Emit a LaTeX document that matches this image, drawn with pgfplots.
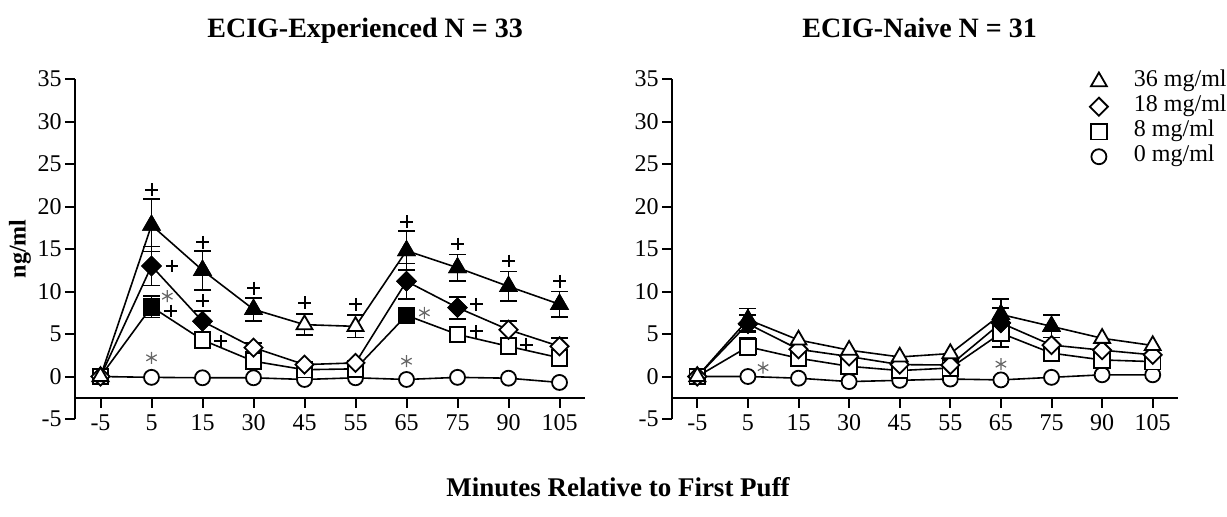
\documentclass[border=0pt]{standalone}
\usepackage{fontspec}
\setmainfont{Liberation Serif}
\usepackage{pgfplots}
\pgfplotsset{compat=1.18}

\pgfplotsset{
  prism/.style={
    scale only axis, height=170pt,
    xmin=-0.5, xmax=9.5, ymin=-5, ymax=35,
    axis y line*=left, axis x line*=bottom,
    axis x line shift=-10.625pt,
    xtick={0,...,9}, xticklabels={-5,5,15,30,45,55,65,75,90,105},
    ytick={-5,0,...,35},
    tick align=outside, major tick length=5pt,
    axis line style={line width=1pt, -},
    every tick/.style={black, line width=1pt},
    tick label style={font=\fontsize{12}{14}\selectfont},
    yticklabel style={inner sep=1.5pt},
    /pgf/number format/assume math mode=true,
    clip=false,
  },
  ser/.style={black, line width=0.8pt, mark options={solid, fill=white, line width=0.9pt}},
  tri/.style={mark=triangle*, mark size=4.6pt},
  dia/.style={mark=square*, mark size=3.2pt, mark options={solid, fill=white, line width=0.9pt, rotate=45}},
  sqr/.style={mark=square*, mark size=3.9pt},
  cir/.style={mark=*, mark size=3.75pt},
  filled/.style={forget plot, only marks, black, mark options={solid, fill=black, line width=0.9pt}},
  ebar/.style={forget plot, only marks, mark=none, black,
    error bars/.cd, y dir=both, y explicit, error mark=-,
    error bar style={line width=0.9pt},
    error mark options={rotate=90, mark size=4.25pt, line width=0.9pt}},
  plus/.style={forget plot, only marks, black, mark=+, mark size=3.2pt, mark options={line width=1pt}},
  star/.style={forget plot, only marks, gray!80!black, mark=asterisk, mark size=3pt, mark options={line width=0.6pt}},
}

\begin{document}
\begin{tikzpicture}
\useasboundingbox (0,0) rectangle (613.5pt,258pt);

% ECIG-experienced
\begin{axis}[prism, width=255pt, at={(37.5pt,48.5pt)}, anchor=south west]
\addplot[ebar] table[x index=0, y index=1, y error index=2] {
1 17.8 3.1
2 12.5 2.3
3 7.9 1.35
4 6.1 1.25
5 5.9 1.3
6 14.8 2.3
7 12.8 1.55
8 10.6 1.75
9 8.5 1.5
};
\addplot[ebar] table[x index=0, y index=1, y error index=2] {
1 13.0 2.3
2 6.5 1.2
3 3.4 0.5
6 11.2 2.1
7 8.1 1.3
8 5.5 1.0
9 3.55 0.95
};
\addplot[ebar] table[x index=0, y index=1, y error index=2] {
1 8.2 1.25
2 4.3 0.6
6 7.2 0.8
7 4.95 0.6
8 3.55 0.5
9 2.2 0.5
};
\addplot[ser, cir] coordinates {(0,0) (1,-0.1) (2,-0.15) (3,-0.15) (4,-0.35) (5,-0.15) (6,-0.35) (7,-0.1) (8,-0.2) (9,-0.7)};
\addplot[ser, sqr] coordinates {(0,0) (1,8.2) (2,4.3) (3,1.8) (4,0.8) (5,0.9) (6,7.2) (7,4.95) (8,3.55) (9,2.2)};
\addplot[ser, dia] coordinates {(0,0) (1,13.0) (2,6.5) (3,3.4) (4,1.4) (5,1.6) (6,11.2) (7,8.1) (8,5.5) (9,3.55)};
\addplot[ser, tri] coordinates {(0,0) (1,17.8) (2,12.5) (3,7.9) (4,6.1) (5,5.9) (6,14.8) (7,12.8) (8,10.6) (9,8.5)};
\addplot[filled, sqr] coordinates {(1,8.2) (6,7.2)};
\addplot[filled, dia, mark options={solid, fill=black, line width=0.9pt, rotate=45}] coordinates {(1,13.0) (2,6.5) (6,11.2) (7,8.1)};
\addplot[filled, tri] coordinates {(1,17.8) (2,12.5) (3,7.9) (6,14.8) (7,12.8) (8,10.6) (9,8.5)};
\addplot[plus] coordinates {(1,22.0) (1.4,13.0) (1.38,7.7) (2,15.8) (2,8.9) (2.36,4.15) (3,10.4) (4,8.7) (5,8.5) (6,18.2) (7,15.6) (7.37,8.5) (7.37,5.3) (8,13.6) (8.35,3.76) (9,11.2)};
\addplot[star] coordinates {(1.31,9.45) (1,2.2) (6.35,7.5) (6,1.8)};
\end{axis}

% ECIG-naive
\begin{axis}[prism, width=253pt, at={(336pt,48.5pt)}, anchor=south west,
  reverse legend, legend cell align=left,
  legend image code/.code={\draw[only marks] plot coordinates {(0pt,0pt)};},
  legend style={draw=none, fill=none, at={(rel axis cs:0.825,1.03)}, anchor=north west,
    font=\fontsize{12}{14}\selectfont, inner sep=0pt, row sep=0pt,
    nodes={inner sep=0pt, text height=8.5pt, text depth=4pt},
    /tikz/every odd column/.append style={column sep=13pt}}]
\addplot[ebar] table[x index=0, y index=1, y error index=2] {
1 6.7 1.3
6 7.3 1.8
7 5.9 1.3
};
\addplot[ebar] table[x index=0, y index=1, y error index=2] {
1 6.2 1.0
6 6.3 1.8
};
\addplot[ebar] table[x index=0, y index=1, y error index=2] {
1 3.5 1.0
6 5.1 1.6
};
\addplot[ser, cir] coordinates {(0,0) (1,0) (2,-0.2) (3,-0.6) (4,-0.45) (5,-0.3) (6,-0.4) (7,-0.1) (8,0.2) (9,0.2)};
\addlegendentry{0 mg/ml}
\addplot[ser, sqr] coordinates {(0,0) (1,3.5) (2,2.15) (3,1.2) (4,0.7) (5,1.0) (6,5.1) (7,2.75) (8,1.95) (9,1.75)};
\addlegendentry{8 mg/ml}
\addplot[ser, dia] coordinates {(0,0) (1,6.2) (2,3.2) (3,2.35) (4,1.4) (5,1.35) (6,6.3) (7,3.7) (8,3.1) (9,2.55)};
\addlegendentry{18 mg/ml}
\addplot[ser, tri] coordinates {(0,0) (1,6.7) (2,4.3) (3,3.1) (4,2.3) (5,2.7) (6,7.3) (7,5.9) (8,4.5) (9,3.65)};
\addlegendentry{36 mg/ml}
\addplot[filled, tri] coordinates {(1,6.7) (6,7.3) (7,5.9)};
\addplot[filled, dia, mark options={solid, fill=black, line width=0.9pt, rotate=45}] coordinates {(1,6.2) (6,6.3)};
\addplot[star] coordinates {(1.3,1.05) (6,1.45)};
\end{axis}

\node[anchor=base west, inner sep=0pt, font=\bfseries\fontsize{14}{16}\selectfont] at (103.5pt,239.5pt) {ECIG-Experienced N = 33};
\node[anchor=base west, inner sep=0pt, font=\bfseries\fontsize{14}{16}\selectfont] at (401pt,239.5pt) {ECIG-Naive N = 31};
\node[rotate=90, font=\bfseries\fontsize{12}{14}\selectfont] at (10pt,133.5pt) {ng/ml};
\node[font=\bfseries\fontsize{13.5}{16}\selectfont] at (309pt,14.5pt) {Minutes Relative to First Puff};
\end{tikzpicture}
\end{document}
